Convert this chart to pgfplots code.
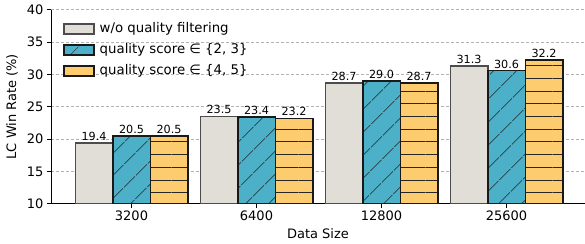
\documentclass[border=0pt]{standalone}
\usepackage{fontspec}
\setmainfont{DejaVu Sans}
\usepackage{pgfplots}
\pgfplotsset{compat=1.18}
\usetikzlibrary{patterns.meta}
\definecolor{cgray}{RGB}{224,222,215}
\definecolor{cblue}{RGB}{75,176,200}
\definecolor{corange}{RGB}{253,204,110}
\begin{document}
\begin{tikzpicture}
\begin{axis}[name=ax, scale only axis, width=534pt, height=194pt,
  xmin=-0.644, xmax=3.628, ymin=10, ymax=40,
  ybar, bar width=0.3,
  axis x line*=bottom, axis y line*=left,
  axis line style={black, line width=0.9pt},
  xtick={0,1,2,3}, xticklabels={3200,6400,12800,25600},
  ytick={10,15,20,25,30,35,40},
  tick align=outside, major tick length=4pt,
  tick style={black, line width=0.9pt},
  ymajorgrids, grid style={black!30, dash pattern=on 3pt off 2pt, line width=0.8pt},
  /pgf/number format/assume math mode=true,
  ticklabel style={font=\fontsize{13}{15}\selectfont},
  xlabel={Data Size}, ylabel={LC Win Rate (\%)},
  every axis x label/.style={at={(axis description cs:0.5,-0.1546)}, anchor=center, font=\fontsize{13}{15}\selectfont},
  every axis y label/.style={at={(axis description cs:-0.073,0.5)}, anchor=center, rotate=90, font=\fontsize{13}{15}\selectfont},
  nodes near coords={\pgfmathprintnumber[fixed,fixed zerofill,precision=1,assume math mode=true]{\pgfplotspointmeta}},
  every node near coord/.append style={font=\fontsize{11.2}{13}\selectfont, inner sep=1.5pt, text=black},
  legend style={at={(axis description cs:0.0225,0.945)}, anchor=north west, draw=none, fill=none, inner sep=0pt, row sep=4pt,
    nodes={inner sep=2pt, font=\fontsize{13.3}{15}\selectfont, text height=10pt, text depth=3pt}},
  legend cell align=left,
  legend image code/.code={\draw[#1] (0pt,-5pt) rectangle (30pt,5pt); \path (33pt,0pt);},
]
\addplot[bar shift=-0.3, fill=cgray, draw=black!70, line width=1.5pt]
  coordinates {(0,19.4) (1,23.5) (2,28.7) (3,31.3)};
\addlegendentry{w/o quality filtering}
\addplot[bar shift=0, fill=cblue, draw=black!90, line width=1.5pt,
  postaction={pattern={Lines[angle=45,distance=17pt,line width=0.7pt]}, pattern color=black!85}]
  coordinates {(0,20.5) (1,23.4) (2,29.0) (3,30.6)};
\addlegendentry{quality score ∈ \{2, 3\}}
\addplot[bar shift=0.3, fill=corange, draw=black!90, line width=1.5pt,
  postaction={pattern={Lines[angle=0,distance=12.7pt,line width=0.7pt]}, pattern color=black!85}]
  coordinates {(0,20.5) (1,23.2) (2,28.7) (3,32.2)};
\addlegendentry{quality score ∈ \{4, 5\}}
\end{axis}
\pgfresetboundingbox
\path ([xshift=-51pt,yshift=-39.7pt]ax.south west) rectangle ([yshift=9.7pt]ax.north east);
\end{tikzpicture}
\end{document}
